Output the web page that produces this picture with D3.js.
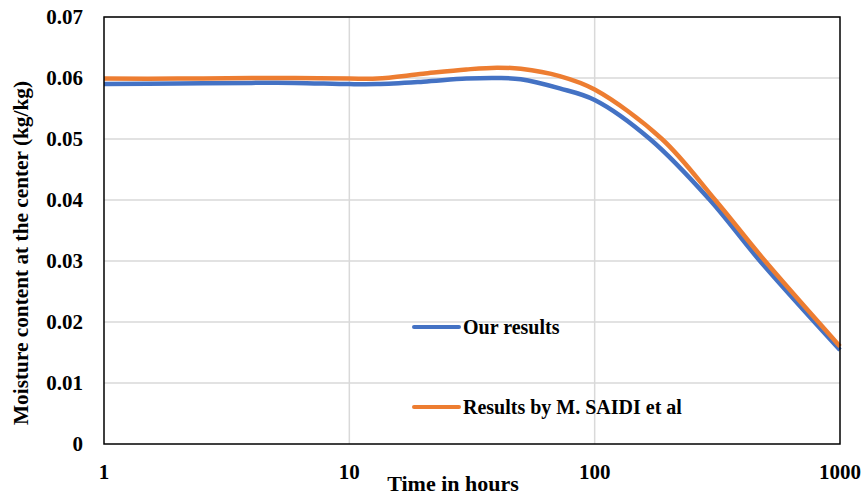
<!DOCTYPE html>
<html><head><meta charset="utf-8">
<script src="https://cdn.jsdelivr.net/npm/d3@7"></script>
<style>body{margin:0;background:#fff}svg{display:block}text{font-family:"Liberation Serif","Times New Roman",serif;font-weight:bold;fill:#000}</style>
</head><body>
<script>
const timesOur = [1, 2, 4, 6, 10, 13, 20, 30, 40, 50, 72, 100, 168, 295, 472, 1000];
const ourResults = [0.0590, 0.0591, 0.0592, 0.0592, 0.0590, 0.0590, 0.0594, 0.0599, 0.0600, 0.0598, 0.0583, 0.0564, 0.0500, 0.0400, 0.0300, 0.0154];
const timesSaidi = [1, 2, 4, 6, 10, 13, 20, 30, 40, 50, 72, 100, 188, 310, 495, 1000];
const saidiResults = [0.0599, 0.0599, 0.0600, 0.0600, 0.0599, 0.0599, 0.0607, 0.0614, 0.0617, 0.0615, 0.0603, 0.0581, 0.0500, 0.0400, 0.0300, 0.0160];
const xTicks = [1, 10, 100, 1000];
const yTicks = [0, 0.01, 0.02, 0.03, 0.04, 0.05, 0.06, 0.07];
const seriesNames = ["Our results", "Results by M. SAIDI et al"];
const colors = ["#4472C4", "#ED7D31"];

const W = 864, H = 497;
const L = 104, R = 840, T = 17, B = 444;
const svg = d3.select("body").append("svg").attr("width", W).attr("height", H);
const x = d3.scaleLog().domain([1, 1000]).range([L, R]);
const y = d3.scaleLinear().domain([0, 0.07]).range([B, T]);

// gridlines
svg.append("g").selectAll("line").data(yTicks.slice(1)).join("line")
  .attr("x1", L).attr("x2", R).attr("y1", d => y(d)).attr("y2", d => y(d))
  .attr("stroke", "#d9d9d9").attr("stroke-width", 1.5);
svg.append("g").selectAll("line").data(xTicks.slice(1, -1)).join("line")
  .attr("y1", T).attr("y2", B).attr("x1", d => x(d)).attr("x2", d => x(d))
  .attr("stroke", "#d9d9d9").attr("stroke-width", 1.5);

// y tick labels
svg.append("g").selectAll("text").data(yTicks).join("text")
  .attr("x", 83).attr("y", d => y(d)).attr("dy", "0.35em")
  .attr("text-anchor", "end").attr("font-size", 21)
  .text(d => d === 0 ? "0" : d3.format(".2f")(d));
// x tick labels
svg.append("g").selectAll("text").data(xTicks).join("text")
  .attr("x", d => x(d)).attr("y", 479)
  .attr("text-anchor", "middle").attr("font-size", 21)
  .text(d => d);

// titles
svg.append("text").attr("x", 453).attr("y", 491).attr("text-anchor", "middle")
  .attr("font-size", 22).text("Time in hours");
svg.append("text").attr("transform", "translate(28,253) rotate(-90)")
  .attr("text-anchor", "middle").attr("font-size", 21.3)
  .text("Moisture content at the center (kg/kg)");

// lines
const line = d3.line().x(d => x(d[0])).y(d => y(d[1])).curve(d3.curveCatmullRom.alpha(0.5));
[[timesOur, ourResults], [timesSaidi, saidiResults]].forEach(([ts, vals], i) => {
  svg.append("path").datum(ts.map((t, j) => [t, vals[j]]))
    .attr("fill", "none").attr("stroke", colors[i]).attr("stroke-width", 4.5)
    .attr("d", line);
});

// border
svg.append("rect").attr("x", L).attr("y", T).attr("width", R - L).attr("height", B - T)
  .attr("fill", "none").attr("stroke", "#000").attr("stroke-width", 1.5);

// legend
const legY = [327, 407];
seriesNames.forEach((n, i) => {
  svg.append("line").attr("x1", 414).attr("x2", 459).attr("y1", legY[i]).attr("y2", legY[i])
    .attr("stroke", colors[i]).attr("stroke-width", 4).attr("stroke-linecap", "round");
  svg.append("text").attr("x", 463).attr("y", legY[i]).attr("dy", "0.35em")
    .attr("font-size", 20).text(n);
});
</script>
</body></html>
